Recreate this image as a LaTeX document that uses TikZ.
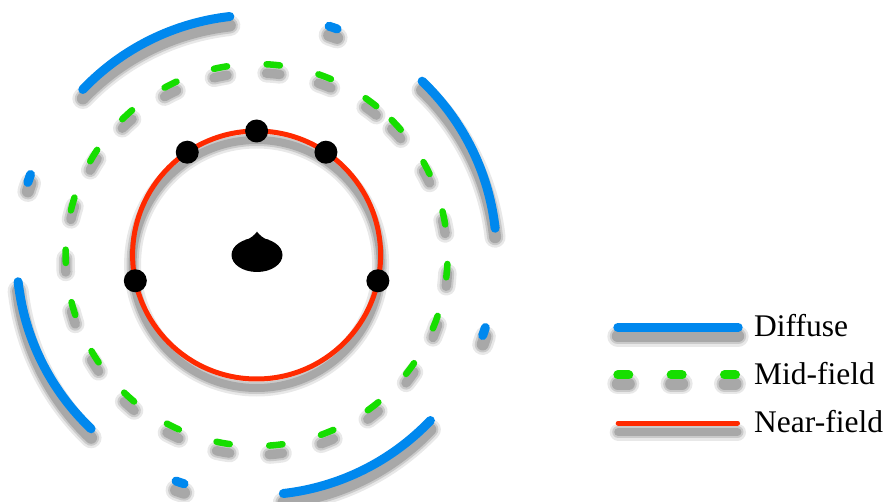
\documentclass[tikz,border=0pt]{standalone}
\usepackage{fontspec}
\setmainfont{Liberation Serif}
\usetikzlibrary{calc}
\definecolor{diffuse}{RGB}{0,136,238}
\definecolor{midfield}{RGB}{22,222,0}
\definecolor{nearfield}{RGB}{255,42,0}

\tikzset{
  field/.style 2 args={draw=#1, line width=#2, line cap=round},
  diffuse line/.style={field={diffuse}{9pt}},
  midfield line/.style={field={midfield}{#1}},
  midfield line/.default=6.5pt,
  nearfield line/.style={field={nearfield}{5pt}},
  shadow pass/.style 2 args={field/.style 2 args={draw=black, opacity=#2, line width=##2+#1, line cap=round}},
  mic/.style={circle, fill=black, inner sep=0pt, minimum size=23pt}
}

% every coloured line of the picture, drawn once for the shadow and once on top
\newcommand\fieldlines{%
  % diffuse field: four long arcs and four short ones
  \foreach \k in {0,...,3} {
    \pgfmathsetmacro\a{136.4-90*\k}
    \pgfmathsetmacro\b{71.4-90*\k}
    \draw[diffuse line] ($(ctr)+(\a:240)$) arc[start angle=\a, end angle=\a-40, radius=240];
    \draw[diffuse line] ($(ctr)+(\b+1:240)$) arc[start angle=\b+1, end angle=\b-1, radius=240];
  }
  % mid-field ring
  \foreach \k in {0,...,22} {
    \pgfmathsetmacro\a{43-15.9*\k}
    \draw[midfield line] ($(ctr)+(\a+2:191)$) arc[start angle=\a+2, end angle=\a-2, radius=191];
  }
  % near-field ring
  \draw[nearfield line] (ctr) circle[radius=124];
  % legend keys
  \draw[diffuse line] (key-diffuse) -- ++(120.4,0);
  \foreach \i in {0,1,2}
    \draw[midfield line=9pt] ($(key-mid)+(53.35*\i,0)$) -- ++(11,0);
  \draw[nearfield line] (key-near) -- ++(119.3,0);
}

\begin{document}
\begin{tikzpicture}[x=1pt, y=1pt, every node/.style={font=\fontsize{31.5}{38}\selectfont}]
  \useasboundingbox (0,0) rectangle (889,501);
  \coordinate (ctr) at (256.6,246);
  \coordinate (key-diffuse) at (617.8,173.7);
  \coordinate (key-mid) at (617.8,126);
  \coordinate (key-near) at (618.2,78);

  % soft drop shadow
  \foreach \w/\o in {12pt/.09, 7pt/.13, 3pt/.17} {
    \begin{scope}[transform canvas={yshift=-9pt}, shadow pass={\w}{\o}]
      \fieldlines
    \end{scope}
  }
  \fieldlines

  % microphones on the near-field ring
  \foreach \a/\n in {90/top, 124/upleft, 56/upright, 192/left, -12/right}
    \node[mic] (mic-\n) at ($(ctr)+(\a:124)$) {};

  % listener
  \coordinate (head) at (257,246);
  \fill (head) ellipse[x radius=25.5, y radius=17];
  \fill ($(head)+(-12,15)$) .. controls +(6,1) and +(-2,-2.5) .. ($(head)+(0,23.3)$)
    .. controls +(2,-2.5) and +(-6,1) .. ($(head)+(12,15)$) -- cycle;

  % legend
  \node[anchor=base west, inner sep=0pt] (lab-diffuse) at (754,164.3) {Diffuse};
  \node[anchor=base west, inner sep=0pt] (lab-mid) at (754,116) {Mid-field};
  \node[anchor=base west, inner sep=0pt] (lab-near) at (754,68.3) {Near-field};
\end{tikzpicture}
\end{document}
